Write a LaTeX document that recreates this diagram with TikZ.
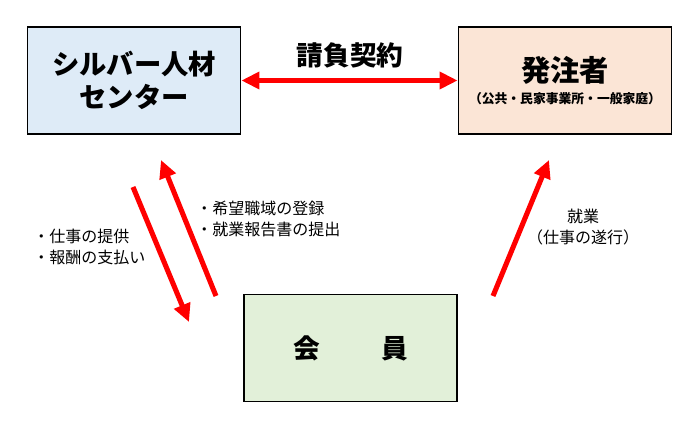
\documentclass[tikz,border=0pt]{standalone}
\usepackage{fontspec}
\setmainfont{Noto Sans CJK JP}
\usetikzlibrary{arrows.meta}
\definecolor{boxblue}{HTML}{DEEBF7}
\definecolor{boxorange}{HTML}{FBE5D6}
\definecolor{boxgreen}{HTML}{E2F0D9}
\tikzset{
    party/.style={draw=black, line width=1.1pt, minimum width=160pt, minimum height=80pt, inner sep=0pt, align=center},
    flow/.style={draw=red, line width=3.8pt, -{Triangle[length=13.5pt,width=12.5pt]}},
    note/.style={font=\fontsize{12}{15.8}\selectfont, align=left, inner sep=0pt}
}
\begin{document}
\begin{tikzpicture}[x=0.75pt, y=-0.75pt]
        \useasboundingbox (0,0) rectangle (700,431);
        \node [party, fill=boxblue, font=\bfseries\fontsize{20.5}{24.8}\selectfont] (silver) at (134,80.5) {シルバー人材\\センター};
        \node [party, fill=boxorange, font=\bfseries\fontsize{22}{26}\selectfont] (client) at (565,80.5) {発注者\\[-9pt]{\fontsize{9.6}{11}\selectfont （公共・民家事業所・一般家庭）}};
        \node [party, fill=boxgreen, font=\bfseries\fontsize{20}{24}\selectfont] (member) at (350.5,348) {会\hspace{2.3em}員};
        \node [font=\bfseries\fontsize{20}{23}\selectfont] (contract) at (350,55) {請負契約};
        \coordinate (w1) at (133,187);
        \coordinate (w2) at (189,322);
        \coordinate (r1) at (216,296);
        \coordinate (r2) at (161,160);
        \coordinate (j1) at (493,296);
        \coordinate (j2) at (549,160);
        \draw [flow, {Triangle[length=13.5pt,width=12.5pt]}-{Triangle[length=13.5pt,width=12.5pt]}] (silver.east) -- (client.west);
        \draw [flow] (w1) -- (w2);
        \draw [flow] (r1) -- (r2);
        \draw [flow] (j1) -- (j2);
        \node [note, anchor=west] (pay) at (33,247) {・仕事の提供\\・報酬の支払い};
        \node [note, anchor=west] (report) at (196,219) {・希望職域の登録\\・就業報告書の提出};
        \node [note, align=center] (work) at (583,227) {就業\\（仕事の遂行）};
    \end{tikzpicture}
\end{document}
